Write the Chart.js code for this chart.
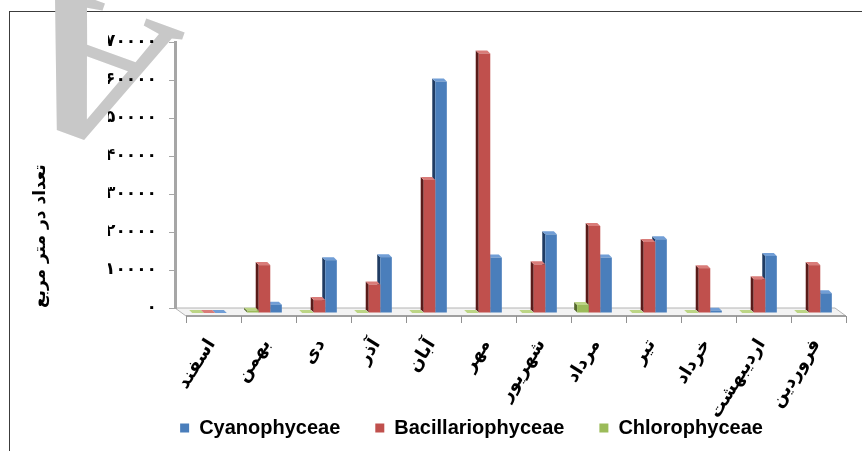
<!DOCTYPE html>
<html>
<head>
<meta charset="utf-8">
<script src="https://cdn.jsdelivr.net/npm/chart.js@4"></script>
<style>
  html, body { margin: 0; padding: 0; background: #fff; }
  #wrap { position: relative; width: 862px; height: 451px; }
</style>
</head>
<body>
<div id="wrap"><canvas id="c" width="862" height="451"></canvas></div>
<script>
// Monthly phytoplankton counts (per square metre), Persian calendar months
const months = ['فروردین', 'اردیبهشت', 'خرداد', 'تیر', 'مرداد', 'شهریور', 'مهر', 'آبان', 'آذر', 'دی', 'بهمن', 'اسفند'];
const cyanophyceae      = [5200, 15000, 600, 19400, 14600, 20700, 14600, 60900, 14700, 13900, 2200, 0];
const bacillariophyceae = [12600, 8900, 11800, 18700, 22900, 12800, 68300, 35000, 7500, 3400, 12600, 0];
const chlorophyceae     = [0, 0, 0, 0, 2100, 0, 0, 0, 0, 0, 600, 0];
const yTickLabels = ['۰', '۱۰۰۰۰', '۲۰۰۰۰', '۳۰۰۰۰', '۴۰۰۰۰', '۵۰۰۰۰', '۶۰۰۰۰', '۷۰۰۰۰'];
const yTitle = 'تعداد در متر مربع';

// pseudo-3D look: bars sit in the middle of the floor, faces recede up-left
const BAR_SHIFT = { x: 7, y: 5 };
const BAR_DEPTH = { x: -3, y: -3 };
const FLOOR = { x: 11, y: 8 };
// slanted month names hang below the floor's front edge
const LABEL_SHIFT = { x: 9, y: 33 };
const LABEL_ANGLE = 58;

const faces = {
  blue:  { front: '#4a7ebb', side: '#203c63', top: '#719ed6' },
  red:   { front: '#c0504d', side: '#5a1b19', top: '#d97c79' },
  green: { front: '#9bbb59', side: '#55692c', top: '#bcd586' }
};

const shade3d = {
  id: 'shade3d',
  beforeDraw(chart) {
    const ctx = chart.ctx;
    const { left, right, bottom } = chart.chartArea;
    ctx.save();
    // outer frame
    ctx.strokeStyle = '#3c3c3c';
    ctx.lineWidth = 1;
    ctx.strokeRect(9.5, 11.5, 1000, 1000);
    // watermark letter
    ctx.fillStyle = '#c8c8c8';
    ctx.font = 'bold 205px "Liberation Serif"';
    ctx.translate(117, 8);
    ctx.rotate(200 * Math.PI / 180);
    ctx.textAlign = 'center';
    ctx.textBaseline = 'alphabetic';
    ctx.fillText('A', 0, 0);
    ctx.restore();

    // floor
    ctx.save();
    ctx.beginPath();
    ctx.moveTo(left, bottom);
    ctx.lineTo(right, bottom);
    ctx.lineTo(right + FLOOR.x, bottom + FLOOR.y);
    ctx.lineTo(left + FLOOR.x, bottom + FLOOR.y);
    ctx.closePath();
    ctx.fillStyle = '#f3f3f3';
    ctx.fill();
    ctx.strokeStyle = '#b4b4b4';
    ctx.lineWidth = 1;
    ctx.stroke();
    ctx.beginPath();
    ctx.moveTo(left + FLOOR.x, bottom + FLOOR.y);
    ctx.lineTo(right + FLOOR.x, bottom + FLOOR.y);
    ctx.strokeStyle = '#a0a0a0';
    ctx.lineWidth = 2;
    ctx.stroke();
    // category tick marks on the floor's front edge
    const xs = chart.scales.x;
    const n = xs.ticks.length;
    const step = (right - left) / n;
    ctx.lineWidth = 1;
    ctx.strokeStyle = '#909090';
    for (let i = 0; i <= n; i++) {
      const px = Math.round(left + FLOOR.x + i * step) + 0.5;
      ctx.beginPath();
      ctx.moveTo(px, bottom + FLOOR.y);
      ctx.lineTo(px, bottom + FLOOR.y + 7);
      ctx.stroke();
    }
    ctx.restore();
  },
  beforeDatasetsDraw(chart) {
    chart.ctx.save();
    chart.ctx.translate(BAR_SHIFT.x, BAR_SHIFT.y);
  },
  beforeDatasetDraw(chart, args) {
    const ctx = chart.ctx;
    const ds = chart.data.datasets[args.index];
    const f = faces[ds.faceKey];
    ctx.save();
    for (const el of args.meta.data) {
      const { x, y, base, width } = el.getProps(['x', 'y', 'base', 'width'], true);
      const l = x - width / 2, r = x + width / 2;
      // left side face
      ctx.beginPath();
      ctx.moveTo(l, base);
      ctx.lineTo(l, y);
      ctx.lineTo(l + BAR_DEPTH.x, y + BAR_DEPTH.y);
      ctx.lineTo(l + BAR_DEPTH.x, base + BAR_DEPTH.y);
      ctx.closePath();
      ctx.fillStyle = f.side;
      ctx.fill();
      // top face
      ctx.beginPath();
      ctx.moveTo(l, y);
      ctx.lineTo(r, y);
      ctx.lineTo(r + BAR_DEPTH.x, y + BAR_DEPTH.y);
      ctx.lineTo(l + BAR_DEPTH.x, y + BAR_DEPTH.y);
      ctx.closePath();
      ctx.fillStyle = f.top;
      ctx.fill();
    }
    ctx.restore();
  },
  afterDatasetsDraw(chart) {
    chart.ctx.restore();
  },
  afterDraw(chart) {
    // month names, placed on the category scale and free to run past the axis box
    const ctx = chart.ctx;
    const xs = chart.scales.x;
    ctx.save();
    ctx.font = 'bold 18px "DejaVu Sans", sans-serif';
    ctx.fillStyle = '#000';
    ctx.textAlign = 'right';
    ctx.textBaseline = 'middle';
    chart.data.labels.forEach((m, i) => {
      const px = xs.getPixelForValue(i);
      ctx.save();
      ctx.translate(px + LABEL_SHIFT.x, chart.chartArea.bottom + LABEL_SHIFT.y);
      ctx.rotate(-LABEL_ANGLE * Math.PI / 180);
      ctx.fillText(m, 0, 0);
      ctx.restore();
    });
    ctx.restore();
  }
};

new Chart(document.getElementById('c'), {
  type: 'bar',
  data: {
    labels: months,
    datasets: [
      { label: 'Chlorophyceae', data: chlorophyceae, backgroundColor: faces.green.front, faceKey: 'green', borderWidth: 0, clip: false },
      { label: 'Bacillariophyceae', data: bacillariophyceae, backgroundColor: faces.red.front, faceKey: 'red', borderWidth: 0, clip: false },
      { label: 'Cyanophyceae', data: cyanophyceae, backgroundColor: faces.blue.front, faceKey: 'blue', borderWidth: 0, clip: false }
    ]
  },
  options: {
    responsive: false,
    animation: false,
    events: [],
    categoryPercentage: 0.63,
    barPercentage: 1.0,
    layout: { padding: { left: 108, right: 27, top: 42, bottom: 3 } },
    plugins: {
      tooltip: { enabled: false },
      legend: {
        position: 'bottom',
        reverse: true,
        labels: {
          boxWidth: 9,
          boxHeight: 9,
          padding: 35,
          color: '#000',
          font: { family: '"Liberation Sans", Arial, sans-serif', size: 20, weight: 'bold' }
        }
      }
    },
    scales: {
      x: {
        reverse: true,
        offset: true,
        afterFit(s) { s.height = 75; },
        grid: { display: false, drawTicks: false },
        border: { display: false },
        ticks: { display: false, autoSkip: false }
      },
      y: {
        min: 0,
        max: 70000,
        afterFit(s) { s.width = 67; },
        grid: { drawOnChartArea: false, drawTicks: true, tickLength: 6, color: '#a6a6a6' },
        border: { display: true, color: '#a6a6a6', width: 3 },
        ticks: {
          stepSize: 10000,
          padding: 12,
          color: '#000',
          font: { family: '"DejaVu Sans", sans-serif', size: 17, weight: 'bold' },
          callback: (v, i) => yTickLabels[i]
        },
        title: {
          display: true,
          text: yTitle,
          align: 'start',
          color: '#000',
          padding: { top: -78, bottom: 0 },
          font: { family: '"DejaVu Sans", sans-serif', size: 17, weight: 'bold' }
        }
      }
    }
  },
  plugins: [shade3d]
});
</script>
</body>
</html>
